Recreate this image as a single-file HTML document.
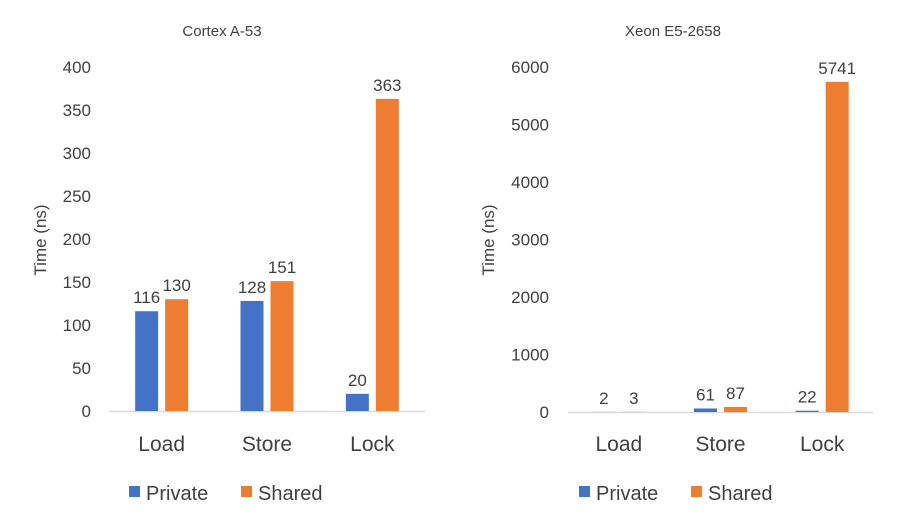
<!DOCTYPE html>
<html><head><meta charset="utf-8"><style>
body{margin:0;background:#fff;font-family:"Liberation Sans",sans-serif}
svg text{font-family:"Liberation Sans",sans-serif;fill:#404040}
</style></head><body>
<svg id="c" width="897" height="527" xmlns="http://www.w3.org/2000/svg"></svg>
<script>
const categories=["Load","Store","Lock"];
const cortexPrivate=[116,128,20];
const cortexShared=[130,151,363];
const xeonPrivate=[2,61,22];
const xeonShared=[3,87,5741];
const cortexTicks=[0,50,100,150,200,250,300,350,400];
const xeonTicks=[0,1000,2000,3000,4000,5000,6000];
const NS="http://www.w3.org/2000/svg";
const svg=document.getElementById('c');
function mk(t,a,txt){const e=document.createElementNS(NS,t);for(const k in a)e.setAttribute(k,a[k]);if(txt!==undefined)e.textContent=txt;svg.appendChild(e);return e;}
function panel(p){
  const y=v=>p.y0-(v/p.max)*(p.y0-p.yTop);
  const cw=(p.x1-p.x0)/categories.length;
  const cx=i=>p.x0+cw*(i+0.5);
  let e=mk('text',{x:p.titleX,y:36,'text-anchor':'middle','font-size':15},p.title);
  
  
  p.ticks.forEach(t=>{
    e=mk('text',{x:p.tickX,y:y(t)+6,'text-anchor':'end','font-size':17},t);
    
    
  });
  e=mk('text',{x:0,y:0,'text-anchor':'middle','font-size':17,transform:`translate(${p.axisTitleX},240) rotate(-90)`},'Time (ns)');
  
  
  e=mk('line',{x1:p.x0,x2:p.x1,y1:p.y0+0.5,y2:p.y0+0.5,stroke:'#d9d9d9','stroke-width':1.5});
  
  
  const bw=23,gap=7;
  categories.forEach((c,i)=>{
    [[p.priv[i],'#4472c4',-1,'private'],[p.shar[i],'#ed7d31',1,'shared']].forEach(([v,col,s,nm])=>{
      const bx=s<0?cx(i)-gap/2-bw:cx(i)+gap/2;
      const h=Math.max(0,p.y0-y(v));
      let r=mk('rect',{x:bx,y:p.y0-h,width:bw,height:h,fill:col});
      
      
      let t=mk('text',{x:bx+bw/2,y:y(v)-8,'text-anchor':'middle','font-size':17},v);
      
      
    });
    e=mk('text',{x:cx(i),y:451,'text-anchor':'middle','font-size':21},c);
    
    
  });
  [[p.legX,'#4472c4','Private'],[p.legX+112,'#ed7d31','Shared']].forEach(([lx,col,lab])=>{
    let r=mk('rect',{x:lx,y:486,width:11,height:11,fill:col});
    
    
    let t=mk('text',{x:lx+17,y:500,'font-size':20},lab);
    
    
  });
}
panel({key:'cortex',title:'Cortex A-53',titleX:222,x0:109,x1:425,y0:411,yTop:67,max:400,ticks:cortexTicks,tickX:91,axisTitleX:46,priv:cortexPrivate,shar:cortexShared,legX:129});
panel({key:'xeon',title:'Xeon E5-2658',titleX:673,x0:568,x1:873,y0:412,yTop:67,max:6000,ticks:xeonTicks,tickX:549,axisTitleX:494,priv:xeonPrivate,shar:xeonShared,legX:579});
</script>
</body></html>
